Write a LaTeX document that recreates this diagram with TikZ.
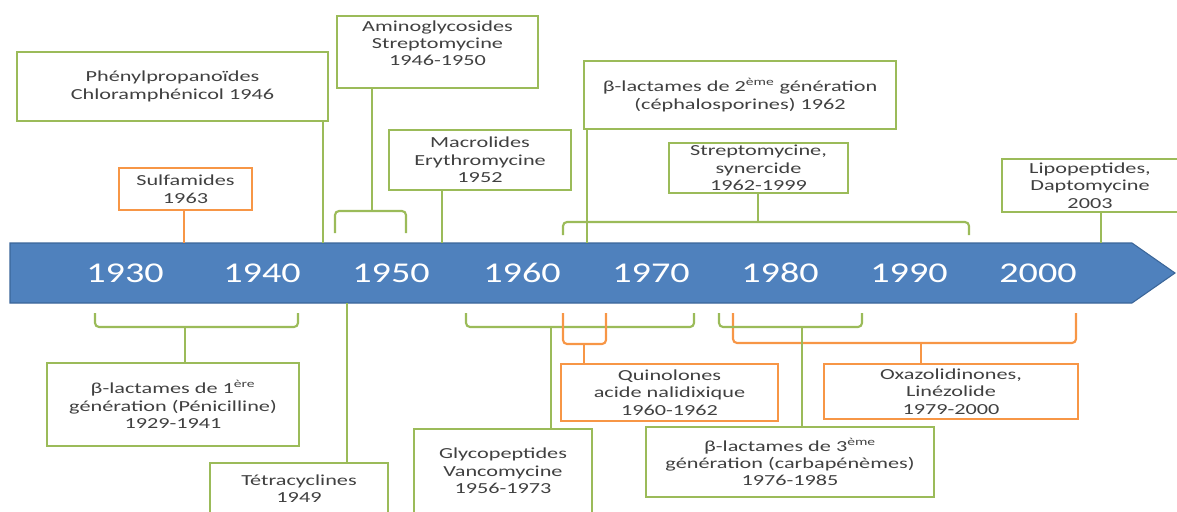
\documentclass[tikz,border=0pt]{standalone}
\usepackage{fontspec}
\usetikzlibrary{fit}
\newfontfamily\bxfont[FakeStretch=1.45]{Carlito}
\newfontfamily\yrfont[FakeStretch=1.33]{Carlito}
\definecolor{gcol}{HTML}{9BBB59}
\definecolor{ocol}{HTML}{F79646}
\definecolor{bcol}{HTML}{4F81BD}
\definecolor{bdcol}{HTML}{3B6699}
\definecolor{txtc}{HTML}{404040}
\begin{document}
\begin{tikzpicture}[x=0.75pt,y=-0.75pt,
  gbox/.style={draw=gcol, line width=2.2pt, inner sep=0pt},
  obox/.style={gbox, draw=ocol},
  txt/.style={inner sep=0pt, align=center, text=txtc,
    font=\bxfont\fontsize{11.5}{13.1}\selectfont},
  gline/.style={draw=gcol, line width=1.6pt},
  oline/.style={draw=ocol, line width=1.6pt},
  brk/.style={rounded corners=3pt},
  year/.style={text=white, font=\yrfont\fontsize{21.5}{21.5}\selectfont, inner sep=0pt}]
\useasboundingbox (0,0) rectangle (1177,511);
\clip (0,0) rectangle (1177,511);
% timeline arrow
\fill[bcol, draw=bdcol, line width=0.8pt] (10,243) -- (1132,243) -- (1175,273) -- (1132,303) -- (10,303) -- cycle;
\node[year] (y1930) at (125,273) {1930};
\node[year] (y1940) at (262,273) {1940};
\node[year] (y1950) at (391,273) {1950};
\node[year] (y1960) at (522,273) {1960};
\node[year] (y1970) at (651,273) {1970};
\node[year] (y1980) at (780,273) {1980};
\node[year] (y1990) at (909,273) {1990};
\node[year] (y2000) at (1038,273) {2000};
% anchor points on the timeline and brackets
\coordinate (tPhen) at (323,243);
\coordinate (tSulf) at (184,243);
\coordinate (bAmi) at (372,211);
\coordinate (tMac) at (442,243);
\coordinate (tBl2) at (587,243);
\coordinate (bStr) at (758,222);
\coordinate (tLip) at (1101,243);
\coordinate (bBl1) at (185,327);
\coordinate (tTet) at (347,303);
\coordinate (bGly) at (551,327);
\coordinate (bQui) at (584,344);
\coordinate (bBl3) at (802,327);
\coordinate (bOxa) at (921,343);
% upper boxes
\node[gbox, fit={(17,52) (328,121)}] (phen) {};
\node[txt] (phenT) at (phen.center) {Phénylpropanoïdes\\Chloramphénicol 1946};
\node[obox, fit={(119,168) (252,210)}] (sulf) {};
\node[txt] (sulfT) at (sulf.center) {Sulfamides\\1963};
\node[gbox, fit={(337,16) (538,88)}] (ami) {};
\node[txt] (amiT) at ([yshift=6.6pt]ami.center) {Aminoglycosides\\Streptomycine\\1946-1950};
\node[gbox, fit={(389,130) (571,190)}] (mac) {};
\node[txt] (macT) at (mac.center) {Macrolides\\Erythromycine\\1952};
\node[gbox, fit={(584,61) (896,129)}] (bl2) {};
\node[txt] (bl2T) at (bl2.center) {β-lactames de 2\textsuperscript{ème} génération\\(céphalosporines) 1962};
\node[gbox, fit={(669,143) (848,193)}] (str) {};
\node[txt] (strT) at (str.center) {Streptomycine,\\synercide\\1962-1999};
\node[gbox, fit={(1002,159) (1178,212)}] (lip) {};
\node[txt] (lipT) at (lip.center) {Lipopeptides,\\Daptomycine\\2003};
% lower boxes
\node[gbox, fit={(47,363) (299,446)}] (bl1) {};
\node[txt] (bl1T) at (bl1.center) {β-lactames de 1\textsuperscript{ère}\\génération (Pénicilline)\\1929-1941};
\node[gbox, fit={(210,463) (388,514)}] (tet) {};
\node[txt] (tetT) at (tet.center) {Tétracyclines\\1949};
\node[gbox, fit={(414,429) (592,513)}] (gly) {};
\node[txt] (glyT) at (gly.center) {Glycopeptides\\Vancomycine\\1956-1973};
\node[obox, fit={(561,364) (778,421)}] (qui) {};
\node[txt] (quiT) at (qui.center) {Quinolones\\acide nalidixique\\1960-1962};
\node[gbox, fit={(646,427) (934,497)}] (bl3) {};
\node[txt] (bl3T) at (bl3.center) {β-lactames de 3\textsuperscript{ème}\\génération (carbapénèmes)\\1976-1985};
\node[obox, fit={(824,364) (1078,419)}] (oxa) {};
\node[txt] (oxaT) at (oxa.center) {Oxazolidinones,\\Linézolide\\1979-2000};
% brackets
\draw[gline, brk] (335,233) -- (335,211) -- (406,211) -- (406,233);
\draw[gline, brk] (563,235) -- (563,222) -- (969,222) -- (969,235);
\draw[gline, brk] (95,313) -- (95,327) -- (298,327) -- (298,313);
\draw[gline, brk] (466,313) -- (466,327) -- (694,327) -- (694,313);
\draw[oline, brk] (733,313) -- (733,343) -- (1076,343) -- (1076,313);
\draw[gline, brk] (719,313) -- (719,327) -- (862,327) -- (862,313);
\draw[oline, brk] (563,313) -- (563,344) -- (606,344) -- (606,313);
% connectors
\draw[gline] (phen.south -| tPhen) -- (tPhen);
\draw[oline] (sulf.south -| tSulf) -- (tSulf);
\draw[gline] (ami.south -| bAmi) -- (bAmi);
\draw[gline] (mac.south -| tMac) -- (tMac);
\draw[gline] (bl2.south -| tBl2) -- (tBl2);
\draw[gline] (str.south -| bStr) -- (bStr);
\draw[gline] (lip.south -| tLip) -- (tLip);
\draw[gline] (bBl1) -- (bl1.north -| bBl1);
\draw[gline] (tTet) -- (tet.north -| tTet);
\draw[gline] (bGly) -- (gly.north -| bGly);
\draw[oline] (bQui) -- (qui.north -| bQui);
\draw[gline] (bBl3) -- (bl3.north -| bBl3);
\draw[oline] (bOxa) -- (oxa.north -| bOxa);
\end{tikzpicture}
\end{document}
